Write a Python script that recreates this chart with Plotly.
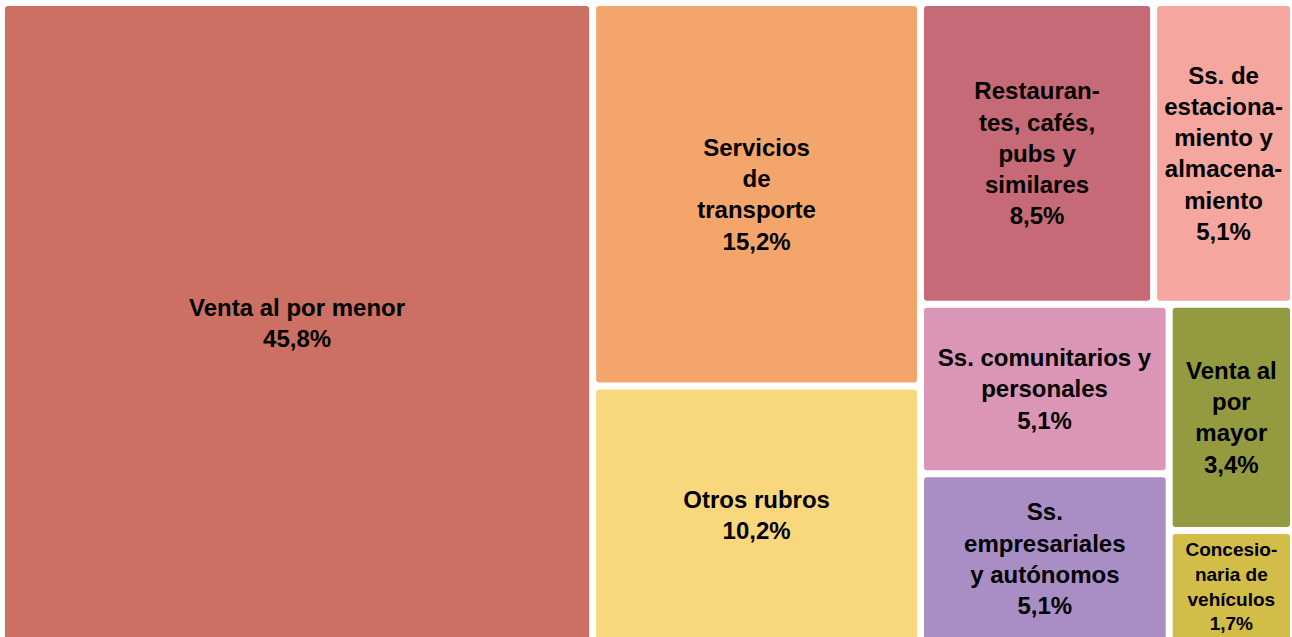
import plotly.graph_objects as go

labels = [
    "Venta al por menor",
    "Servicios<br>de<br>transporte",
    "Otros rubros",
    "Restauran-<br>tes, cafés,<br>pubs y<br>similares",
    "Ss. de<br>estaciona-<br>miento y<br>almacena-<br>miento",
    "Ss. comunitarios y<br>personales",
    "Ss.<br>empresariales<br>y autónomos",
    "Venta al<br>por<br>mayor",
    "Concesio-<br>naria de<br>vehículos",
]
values = [45.8, 15.2, 10.2, 8.5, 5.1, 5.1, 5.1, 3.4, 1.7]
colors = ["#CB7062", "#F4A56B", "#F9D87D", "#C56A76", "#F5A69F",
          "#DB95B6", "#A98EC6", "#949A3F", "#D2BD49"]
font_sizes = [24, 24, 24, 24, 24, 24, 24, 24, 19]
# grouping that reproduces the reference tiling
leaf_group = ["", "g1", "g1", "g2a", "g2a", "g2b1", "g2b1", "g2b2", "g2b2"]
group_ids = ["g1", "g2", "g2a", "g2b", "g2b1", "g2b2"]
group_parents = ["", "", "g2", "g2", "g2b", "g2b"]


def pct(v):
    return f"{v:.1f}".replace(".", ",") + "%"


leaf_ids = [f"n{i}" for i in range(len(labels))]
ng = len(group_ids)
ids = leaf_ids[:1] + group_ids + leaf_ids[1:]
parents = leaf_group[:1] + group_parents + leaf_group[1:]
vals = values[:1] + [0] * ng + values[1:]
cols = colors[:1] + ["white"] * ng + colors[1:]
leaf_texts = [f"{l}<br>{pct(v)}" for l, v in zip(labels, values)]
texts = leaf_texts[:1] + [" "] * ng + leaf_texts[1:]
sizes = font_sizes[:1] + [10] * ng + font_sizes[1:]
lbls = labels[:1] + group_ids + labels[1:]

fig = go.Figure(go.Treemap(
    ids=ids,
    labels=lbls,
    parents=parents,
    values=vals,
    text=texts,
    branchvalues="remainder",
    sort=False,
    marker=dict(colors=cols, line=dict(color="white", width=4), cornerradius=5,
                pad=dict(t=0, l=0, r=0, b=0)),
    texttemplate="%{text}",
    textposition="middle center",
    textfont=dict(family="Liberation Sans", size=sizes, color="black", weight="bold"),
    hoverinfo="label+value",
    tiling=dict(packing="slice-dice"),
    pathbar=dict(visible=False),
))
fig.update_layout(
    width=1292, height=642,
    margin=dict(l=3, r=0, t=4, b=0),
    paper_bgcolor="white",
)
fig.write_html(
    "out.html",
    config={"displayModeBar": False},
    post_script="document.body.style.margin='0';document.body.style.overflow='hidden';",
)
